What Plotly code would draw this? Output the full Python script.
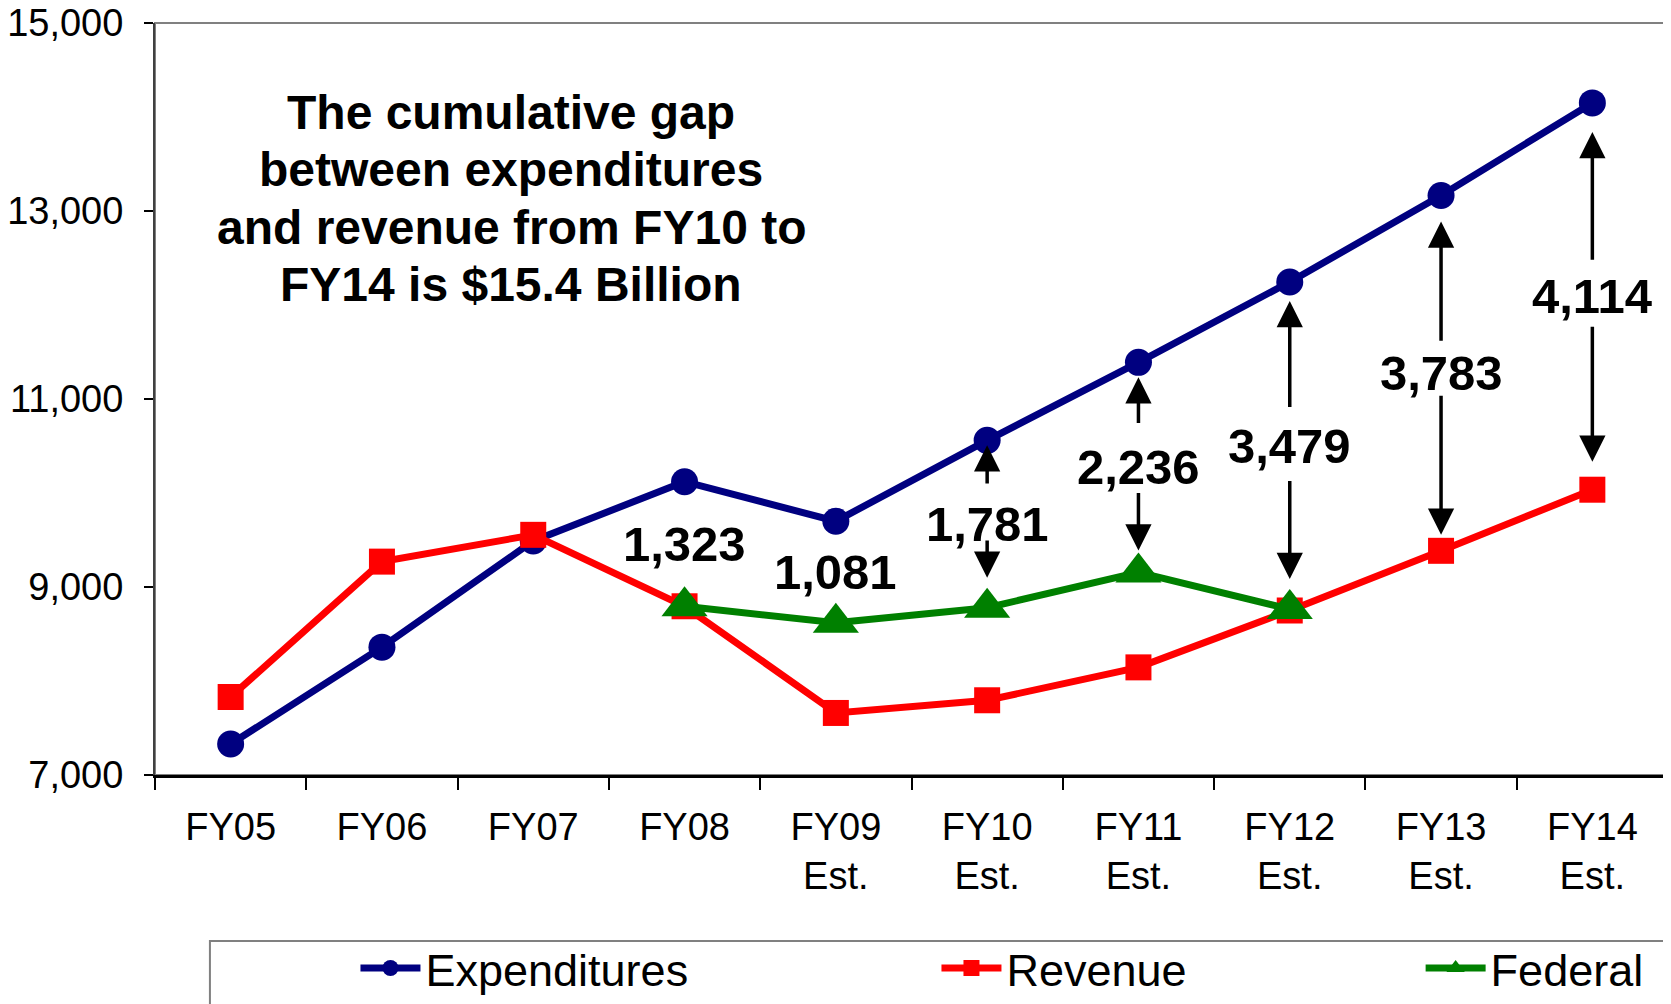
import plotly.graph_objects as go

years = ["FY05", "FY06", "FY07", "FY08", "FY09<br>Est.", "FY10<br>Est.",
         "FY11<br>Est.", "FY12<br>Est.", "FY13<br>Est.", "FY14<br>Est."]
expenditures = [7330, 8360, 9490, 10120, 9700, 10560, 11390, 12245, 13165, 14150]
revenue = [7830, 9270, 9555, 8795, 7660, 7795, 8145, 8750, 9385, 10035]
federal = [None, None, None, 8795, 8620, 8780, 9155, 8765, None, None]
gap_labels = ["1,323", "1,081", "1,781", "2,236", "3,479", "3,783", "4,114"]
gap_start = 3    # FY08 is the first labelled year
arrow_start = 5  # arrows from FY10 onwards
title_lines = ["The cumulative gap", "between expenditures",
               "and revenue from FY10 to", "FY14 is $15.4 Billion"]

NAVY = "#000080"
RED = "#FF0000"
GREEN = "#008000"
FONT = "Liberation Sans, Arial, sans-serif"

# label offsets (px) above the federal point for FY08 / FY09
label_shift = [62, 51]
# arrow gaps (px) for FY10..FY14: tail gap from label, head gap from marker
up_tail = [39, 43, 37, 31, 35]
down_tail = [15, 24, 34, 21, 29]
up_head = [5, 15, 19, 26, 29]
down_head = [30, 22, 30, 16, 28]

fig = go.Figure()

fig.add_trace(go.Scatter(
    x=years, y=expenditures,
    mode="lines+markers", name="Expenditures", legend="legend",
    line=dict(color=NAVY, width=7),
    marker=dict(symbol="circle", size=27, color=NAVY)
))
fig.add_trace(go.Scatter(
    x=years, y=revenue,
    mode="lines+markers", name="Revenue", legend="legend2",
    line=dict(color=RED, width=7),
    marker=dict(symbol="square", size=26, color=RED)
))
fig.add_trace(go.Scatter(
    x=years, y=federal,
    mode="lines+markers", name="Federal", legend="legend3",
    line=dict(color=GREEN, width=7),
    marker=dict(symbol="triangle-up", size=40, color=GREEN)
))

label_font = dict(family=FONT, size=49, color="black", weight="bold")
annotations = []

for k, label in enumerate(gap_labels):
    i = gap_start + k
    top = expenditures[i]
    bottom = federal[i] if federal[i] is not None else revenue[i]
    if i < arrow_start:
        annotations.append(dict(
            x=i, y=bottom, xref="x", yref="y", text=label, showarrow=False,
            yanchor="middle", yshift=label_shift[k], font=label_font
        ))
        continue
    j = i - arrow_start
    mid = (top + bottom) / 2
    annotations.append(dict(
        x=i, y=mid, xref="x", yref="y", text=label, showarrow=False,
        yanchor="middle", font=label_font
    ))
    for head, stand, tail in ((top, up_head[j], up_tail[j]),
                              (bottom, down_head[j], down_tail[j])):
        annotations.append(dict(
            x=i, y=head, xref="x", yref="y", ax=i, ay=mid,
            axref="x", ayref="y", text="", showarrow=True,
            arrowhead=2, arrowsize=1.5, arrowwidth=3.5, arrowcolor="black",
            standoff=stand, startstandoff=tail
        ))

# text box, one annotation per line to keep the tight line spacing
for k, line in enumerate(title_lines):
    annotations.append(dict(
        x=0.2355, y=0.7664, xref="paper", yref="paper", showarrow=False,
        xanchor="center", yanchor="middle", yshift=(1.5 - k) * 57.5,
        text=line,
        font=dict(family=FONT, size=48, color="black", weight="bold")
    ))

legend_style = dict(
    orientation="h", y=-0.257, xanchor="left", yanchor="middle",
    bgcolor="rgba(0,0,0,0)", borderwidth=0, itemwidth=60,
    font=dict(family=FONT, size=45, color="black"),
)

# the page body has an 8px margin, so the figure is 8px smaller than the window
fig.update_layout(
    width=1663, height=996,
    margin=dict(l=147, r=3, t=15, b=229, autoexpand=False),
    paper_bgcolor="white", plot_bgcolor="white",
    font=dict(family=FONT, color="black"),
    showlegend=True,
    legend=dict(x=0.1325, **legend_style),
    legend2=dict(x=0.5165, **legend_style),
    legend3=dict(x=0.8365, **legend_style),
    annotations=annotations,
    shapes=[
        dict(type="rect", xref="paper", yref="paper", x0=0, x1=1, y0=0, y1=1,
             line=dict(color="#808080", width=2), layer="below"),
        dict(type="rect", xref="paper", yref="paper", x0=0.0363, x1=1.05,
             y0=-0.4, y1=-0.2207, line=dict(color="#808080", width=2),
             layer="below"),
    ],
)

fig.update_xaxes(
    type="category", tickson="boundaries", range=[-0.5, len(years) - 0.5],
    showgrid=False, zeroline=False,
    showline=True, linecolor="black", linewidth=3,
    ticks="outside", ticklen=12, tickwidth=1.5, tickcolor="black",
    tickfont=dict(family=FONT, size=38, color="black"),
    ticklabelstandoff=16,
)
fig.update_yaxes(
    range=[7000, 15000], tick0=7000, dtick=2000, tickformat=",d",
    showgrid=False, zeroline=False,
    showline=True, linecolor="#404040", linewidth=2,
    ticks="outside", ticklen=9, tickwidth=1.5, tickcolor="black",
    tickfont=dict(family=FONT, size=38, color="black"),
    ticklabelstandoff=13, ticklabeloverflow="allow",
)

fig.write_html("out.html")
